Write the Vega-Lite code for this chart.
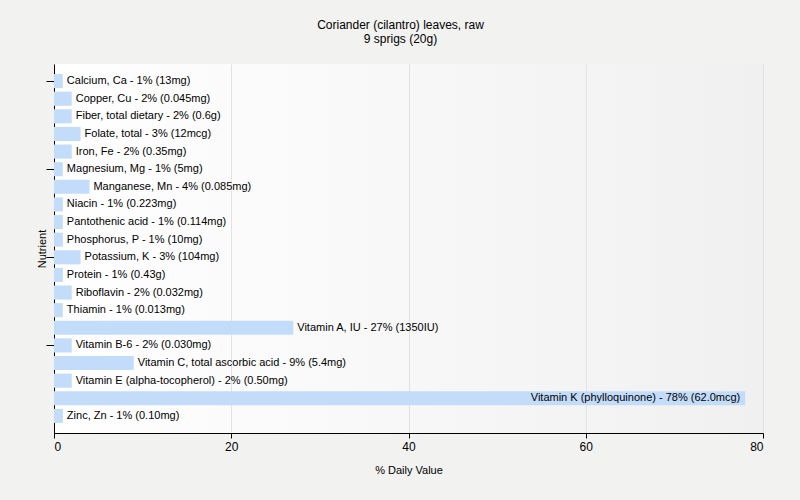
{
  "$schema": "https://vega.github.io/schema/vega-lite/v6.json",
  "width": 709,
  "height": 369,
  "autosize": {"type": "none"},
  "padding": {"left": 54, "top": 64, "right": 37, "bottom": 67},
  "background": "#f2f2f1",
  "title": {
    "text": "Coriander (cilantro) leaves, raw",
    "subtitle": "9 sprigs (20g)",
    "anchor": "middle",
    "dx": -8,
    "offset": 18,
    "font": "Liberation Sans",
    "fontSize": 12,
    "fontWeight": "normal",
    "color": "#000000",
    "subtitleFont": "Liberation Sans",
    "subtitleFontSize": 12,
    "subtitleColor": "#000000",
    "subtitlePadding": 2
  },
  "config": {
    "view": {
      "stroke": null,
      "fill": {
        "gradient": "linear",
        "x1": 0, "y1": 0, "x2": 1, "y2": 0,
        "stops": [
          {"offset": 0, "color": "#ffffff"},
          {"offset": 1, "color": "#f0f0f0"}
        ]
      }
    },
    "axis": {
      "labelFont": "Liberation Sans",
      "titleFont": "Liberation Sans",
      "titleFontWeight": "normal",
      "domainColor": "#000000",
      "tickColor": "#000000"
    }
  },
  "data": {
    "values": [
      {"nutrient": "Calcium, Ca", "value": 1, "label": "Calcium, Ca - 1% (13mg)"},
      {"nutrient": "Copper, Cu", "value": 2, "label": "Copper, Cu - 2% (0.045mg)"},
      {"nutrient": "Fiber, total dietary", "value": 2, "label": "Fiber, total dietary - 2% (0.6g)"},
      {"nutrient": "Folate, total", "value": 3, "label": "Folate, total - 3% (12mcg)"},
      {"nutrient": "Iron, Fe", "value": 2, "label": "Iron, Fe - 2% (0.35mg)"},
      {"nutrient": "Magnesium, Mg", "value": 1, "label": "Magnesium, Mg - 1% (5mg)"},
      {"nutrient": "Manganese, Mn", "value": 4, "label": "Manganese, Mn - 4% (0.085mg)"},
      {"nutrient": "Niacin", "value": 1, "label": "Niacin - 1% (0.223mg)"},
      {"nutrient": "Pantothenic acid", "value": 1, "label": "Pantothenic acid - 1% (0.114mg)"},
      {"nutrient": "Phosphorus, P", "value": 1, "label": "Phosphorus, P - 1% (10mg)"},
      {"nutrient": "Potassium, K", "value": 3, "label": "Potassium, K - 3% (104mg)"},
      {"nutrient": "Protein", "value": 1, "label": "Protein - 1% (0.43g)"},
      {"nutrient": "Riboflavin", "value": 2, "label": "Riboflavin - 2% (0.032mg)"},
      {"nutrient": "Thiamin", "value": 1, "label": "Thiamin - 1% (0.013mg)"},
      {"nutrient": "Vitamin A, IU", "value": 27, "label": "Vitamin A, IU - 27% (1350IU)"},
      {"nutrient": "Vitamin B-6", "value": 2, "label": "Vitamin B-6 - 2% (0.030mg)"},
      {"nutrient": "Vitamin C, total ascorbic acid", "value": 9, "label": "Vitamin C, total ascorbic acid - 9% (5.4mg)"},
      {"nutrient": "Vitamin E (alpha-tocopherol)", "value": 2, "label": "Vitamin E (alpha-tocopherol) - 2% (0.50mg)"},
      {"nutrient": "Vitamin K (phylloquinone)", "value": 78, "label": "Vitamin K (phylloquinone) - 78% (62.0mcg)"},
      {"nutrient": "Zinc, Zn", "value": 1, "label": "Zinc, Zn - 1% (0.10mg)"}
    ]
  },
  "encoding": {
    "y": {
      "field": "nutrient",
      "type": "nominal",
      "sort": null,
      "scale": {"paddingInner": 0.2, "paddingOuter": 0.57},
      "axis": {
        "title": "Nutrient",
        "labels": false,
        "values": ["Calcium, Ca", "Magnesium, Mg", "Potassium, K", "Vitamin B-6"],
        "tickSize": 8,
        "titlePadding": -2,
        "titleFontSize": 11,
        "titleColor": "#000000",
        "grid": false
      }
    },
    "x": {
      "field": "value",
      "type": "quantitative",
      "scale": {"domain": [0, 80], "nice": false},
      "axis": {
        "title": "% Daily Value",
        "values": [0, 20, 40, 60, 80],
        "tickSize": 5,
        "labelFontSize": 12,
        "labelColor": "#000000",
        "labelPadding": 3,
        "titleFontSize": 11,
        "titleColor": "#000000",
        "titlePadding": 12,
        "grid": true,
        "gridColor": "#e2e2e2"
      }
    }
  },
  "layer": [
    {"mark": {"type": "bar", "color": "#c2dcfa"}},
    {
      "transform": [{"filter": "datum.value < 60"}],
      "mark": {"type": "text", "align": "left", "dx": 4, "font": "Liberation Sans", "fontSize": 11, "color": "#000000"},
      "encoding": {"text": {"field": "label"}}
    },
    {
      "transform": [{"filter": "datum.value >= 60"}],
      "mark": {"type": "text", "align": "right", "dx": -5, "font": "Liberation Sans", "fontSize": 11, "color": "#000000"},
      "encoding": {"text": {"field": "label"}}
    }
  ]
}
